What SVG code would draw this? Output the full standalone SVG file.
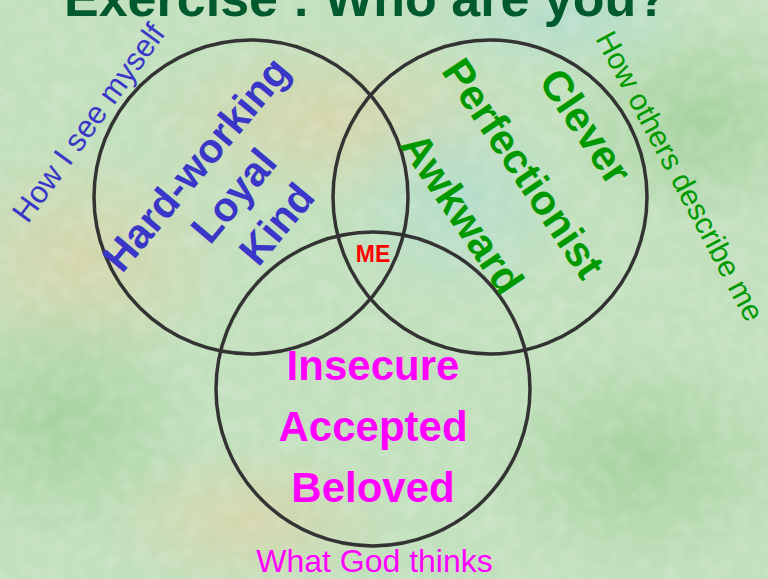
<svg xmlns="http://www.w3.org/2000/svg" width="768" height="579" viewBox="0 0 768 579">
  <defs>
    <style>
      .ring { fill: none; stroke: #333333; stroke-width: 3.5; }
      .title { font-family: "Liberation Sans", Arial, sans-serif; font-weight: bold; font-size: 52px; fill: #005a2e; }
      .lbl { font-family: "Liberation Sans", Arial, sans-serif; }
      .word { font-family: "Liberation Sans", Arial, sans-serif; font-weight: bold; text-anchor: middle; }
      .blue { fill: #3a36c8; }
      .green { fill: #009a00; }
      .mag { fill: #ff00ff; }
    </style>
    <radialGradient id="b1" cx="0.5" cy="0.5" r="0.5">
      <stop offset="0" stop-color="#9fcf98" stop-opacity="0.8"/>
      <stop offset="1" stop-color="#9fcf98" stop-opacity="0"/>
    </radialGradient>
    <radialGradient id="b2" cx="0.5" cy="0.5" r="0.5">
      <stop offset="0" stop-color="#d9d3a8" stop-opacity="0.8"/>
      <stop offset="1" stop-color="#d9d3a8" stop-opacity="0"/>
    </radialGradient>
    <radialGradient id="b3" cx="0.5" cy="0.5" r="0.5">
      <stop offset="0" stop-color="#b2dccf" stop-opacity="0.8"/>
      <stop offset="1" stop-color="#b2dccf" stop-opacity="0"/>
    </radialGradient>
    <filter id="tex" x="0" y="0" width="100%" height="100%">
      <feTurbulence type="fractalNoise" baseFrequency="0.06" numOctaves="2" seed="3" result="n"/>
      <feColorMatrix in="n" type="matrix" values="0 0 0 0 1  0 0 0 0 1  0 0 0 0 1  0 0 0 -1.2 0.75" result="w"/>
      <feComposite in="w" in2="SourceGraphic" operator="in"/>
    </filter>
  </defs>

  <g id="background">
    <rect width="768" height="579" fill="#c2e0bd"/>
    <ellipse cx="80" cy="260" rx="160" ry="120" fill="url(#b2)"/>
    <ellipse cx="60" cy="420" rx="150" ry="130" fill="url(#b1)"/>
    <ellipse cx="330" cy="120" rx="200" ry="90" fill="url(#b2)"/>
    <ellipse cx="460" cy="200" rx="120" ry="110" fill="url(#b3)"/>
    <ellipse cx="700" cy="120" rx="140" ry="110" fill="url(#b1)"/>
    <ellipse cx="640" cy="460" rx="160" ry="120" fill="url(#b1)"/>
    <ellipse cx="250" cy="520" rx="150" ry="80" fill="url(#b2)"/>
    <ellipse cx="560" cy="20" rx="150" ry="60" fill="url(#b3)"/>
    <rect width="768" height="579" fill="#ffffff" opacity="0.25" filter="url(#tex)"/>
  </g>

  <g id="title">
    <text class="title" x="64" y="16">Exercise : Who are you?</text>
  </g>

  <g id="connectors"></g>

  <g id="circle-self">
    <circle class="ring" cx="251" cy="197" r="157"/>
  </g>
  <g id="circle-others">
    <circle class="ring" cx="490" cy="197" r="157"/>
  </g>
  <g id="circle-god">
    <circle class="ring" cx="373" cy="389" r="157"/>
  </g>

  <g id="label-self">
    <text class="lbl blue" font-size="31" text-anchor="middle" transform="translate(97,129) rotate(-54)">How I see myself</text>
  </g>
  <g id="label-others">
    <text class="lbl green" font-size="30" text-anchor="middle" transform="translate(671,181) rotate(62)">How others describe me</text>
  </g>
  <g id="label-god">
    <text class="lbl mag" font-size="32" text-anchor="middle" x="374.5" y="572">What God thinks</text>
  </g>

  <g id="words-self" transform="translate(233,195) rotate(-50)">
    <text class="word blue" font-size="41" x="0" y="-34">Hard-working</text>
    <text class="word blue" font-size="41" x="0" y="15">Loyal</text>
    <text class="word blue" font-size="41" x="6" y="66">Kind</text>
  </g>

  <g id="words-others" transform="translate(524,168) rotate(56)">
    <text class="word green" font-size="42" x="0" y="-60">Clever</text>
    <text class="word green" font-size="42" x="0" y="15">Perfectionist</text>
    <text class="word green" font-size="42" x="3" y="91">Awkward</text>
  </g>

  <g id="words-god">
    <text class="word mag" font-size="42" x="373" y="380">Insecure</text>
    <text class="word mag" font-size="42" x="373" y="441">Accepted</text>
    <text class="word mag" font-size="42" x="373" y="502">Beloved</text>
  </g>

  <g id="me">
    <text class="word" font-size="23" fill="#ff0000" x="373" y="262">ME</text>
  </g>
</svg>
